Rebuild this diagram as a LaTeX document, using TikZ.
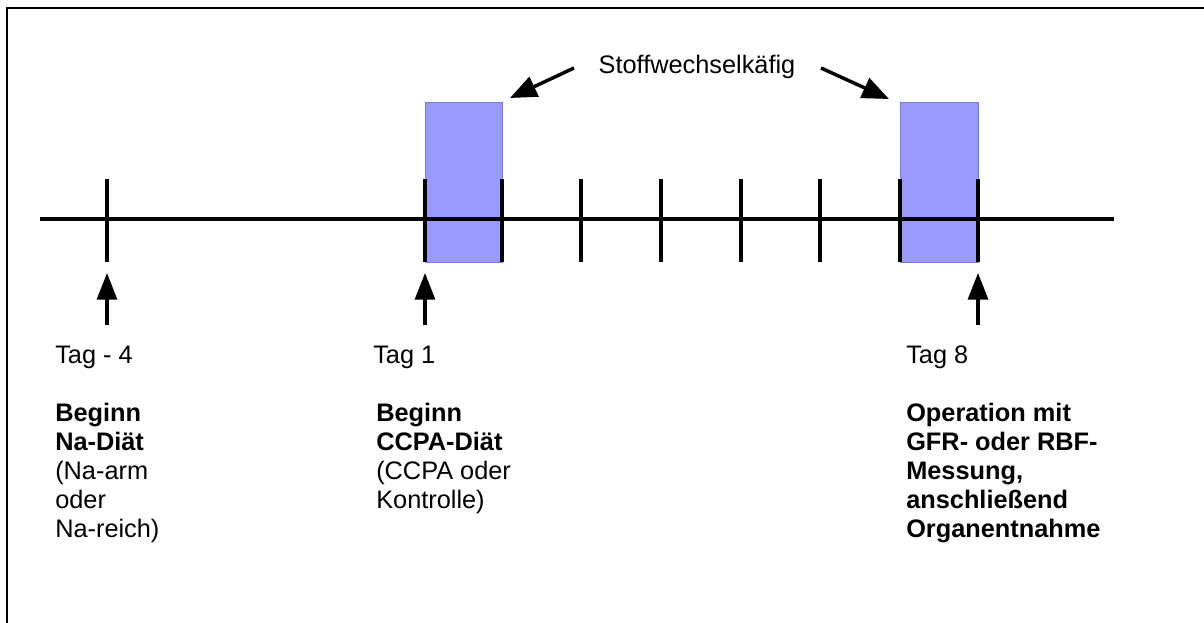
\documentclass[tikz,border=0pt]{standalone}
\usepackage{fontspec}
\setmainfont{Liberation Sans}
\usetikzlibrary{arrows.meta}
\definecolor{cage}{HTML}{9999FF}
\definecolor{cageedge}{HTML}{7A7AE0}
\tikzset{
  tick/.style={line width=3.4pt},
  axis/.style={line width=2.8pt},
  uparrow/.style={line width=2.4pt,-{Triangle[width=15pt,length=20pt]}},
  slantarrow/.style={line width=2.6pt,-{Triangle[width=16pt,length=20pt]}},
  cagebox/.style={fill=cage,draw=cageedge,line width=0.7pt},
  lbl/.style={anchor=base west,inner sep=0pt,font=\fontsize{19}{21.8}\selectfont},
  txt/.style={anchor=north west,inner sep=0pt,align=left,font=\fontsize{19}{21.8}\selectfont},
}
\begin{document}
\begin{tikzpicture}[x=0.75pt,y=-0.75pt]
\useasboundingbox (0,0) rectangle (1204,623);
% frame
\draw[line width=2pt] (7,630) -- (7,8) -- (1210,8);
% cages
\draw[cagebox] (425,102) rectangle (502,262);
\draw[cagebox] (900,102) rectangle (978,262);
% axis
\coordinate (axL) at (40,219);
\coordinate (axR) at (1114,219);
\draw[axis] (axL) -- (axR);
% ticks
\foreach \x/\n in {107/t0,425/t1,502/t2,581/t3,661/t4,741/t5,820/t6,900/t7,978/t8}{
  \coordinate (\n top) at (\x,179);
  \coordinate (\n bot) at (\x,262);
  \draw[tick] (\n top) -- (\n bot);
}
% up arrows
\coordinate (a0s) at (107,325); \coordinate (a0e) at (107,273);
\coordinate (a1s) at (425,325); \coordinate (a1e) at (425,273);
\coordinate (a8s) at (978,325); \coordinate (a8e) at (978,273);
\draw[uparrow] (a0s) -- (a0e);
\draw[uparrow] (a1s) -- (a1e);
\draw[uparrow] (a8s) -- (a8e);
% cage label
\node[lbl,anchor=base] (cagelbl) at (697,74) {Stoffwechselkäfig};
\coordinate (c1s) at (574,68); \coordinate (c1e) at (510,98);
\coordinate (c2s) at (821,68); \coordinate (c2e) at (889,99);
\draw[slantarrow] (c1s) -- (c1e);
\draw[slantarrow] (c2s) -- (c2e);
% day labels
\node[lbl] (tag0) at (55,364) {Tag - 4};
\node[lbl] (tag1) at (373,364) {Tag 1};
\node[lbl] (tag8) at (906,364) {Tag 8};
% descriptions
\node[txt] (d0) at (55,403) {\textbf{Beginn}\\\textbf{Na-Diät}\\(Na-arm\\oder\\Na-reich)};
\node[txt] (d1) at (376,403) {\textbf{Beginn}\\\textbf{CCPA-Diät}\\(CCPA oder\\Kontrolle)};
\node[txt,font=\fontsize{19}{21.8}\selectfont\bfseries] (d8) at (906,403) {Operation mit\\GFR- oder RBF-\\Messung,\\anschließend\\Organentnahme};
\end{tikzpicture}
\end{document}
